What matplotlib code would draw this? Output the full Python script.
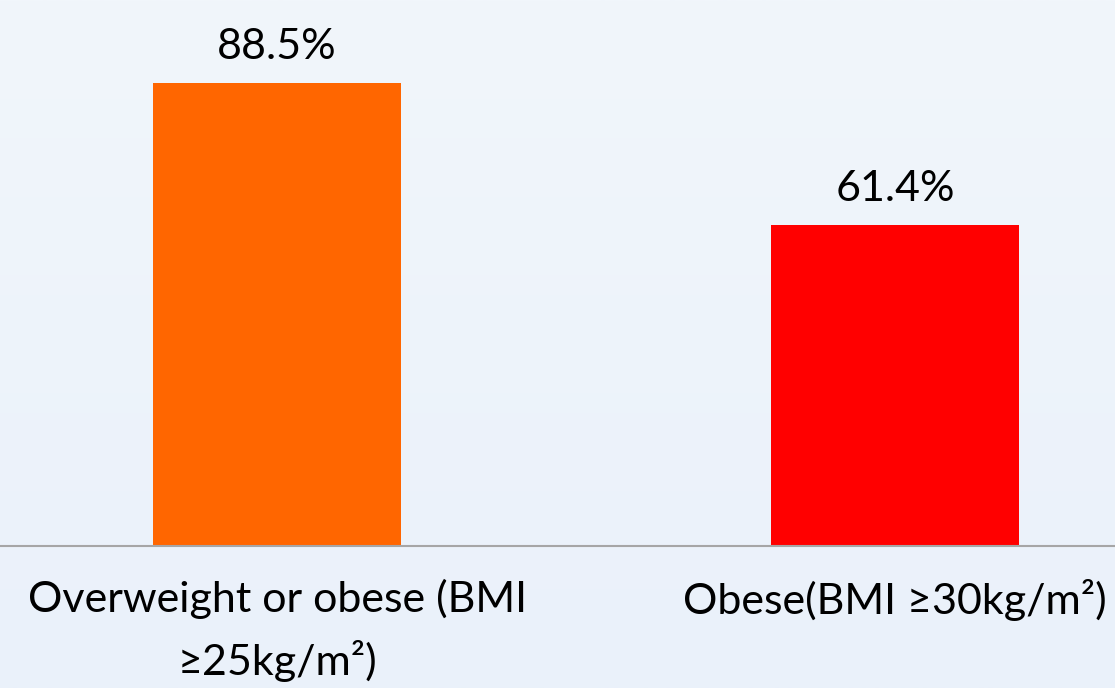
import numpy as np
import matplotlib
matplotlib.use("Agg")
import matplotlib.pyplot as plt

categories = ["Overweight or obese (BMI\n≥25kg/m²)", "Obese(BMI ≥30kg/m²)"]
values = [88.5, 61.4]
value_labels = ["88.5%", "61.4%"]
colors = ["#FF6600", "#FF0000"]

plt.rcParams['font.family'] = ['Lato', 'DejaVu Sans']

fig = plt.figure(figsize=(11.15, 6.88), dpi=100)

# subtle background gradient
bg = fig.add_axes([0, 0, 1, 1], zorder=0)
grad = np.linspace(0, 1, 256).reshape(-1, 1)
bg.imshow(grad, aspect="auto", cmap=matplotlib.colors.LinearSegmentedColormap.from_list(
    "bg", ["#F1F6FB", "#EAF1FA"]), extent=[0, 1, 0, 1], origin="upper")
bg.axis("off")

# plot area: baseline at y=546 px, top at y=0
ax = fig.add_axes([0, (688 - 546) / 688, 1, 546 / 688], zorder=1)
ax.patch.set_alpha(0)
x = np.arange(len(values))
ax.bar(x, values, width=0.401, color=colors)
ax.set_xlim(-277 / 618, (1115 - 277) / 618)
ax.set_ylim(0, 546 / 463 * 88.5)

for xi, v, lab in zip(x, values, value_labels):
    ax.annotate(lab, (xi, v), xytext=(0, 12), textcoords="offset points",
                ha="center", va="bottom", fontsize=31, color="black")

ax.set_xticks(x)
ax.set_xticklabels(categories, fontsize=31, linespacing=1.6, va="top")
ax.tick_params(axis="x", length=0, pad=24)
ax.set_yticks([])
for s in ["top", "left", "right"]:
    ax.spines[s].set_visible(False)
ax.spines["bottom"].set_color("#A6A6A6")
ax.spines["bottom"].set_linewidth(1.5)

fig.savefig("out.png", dpi=100)
